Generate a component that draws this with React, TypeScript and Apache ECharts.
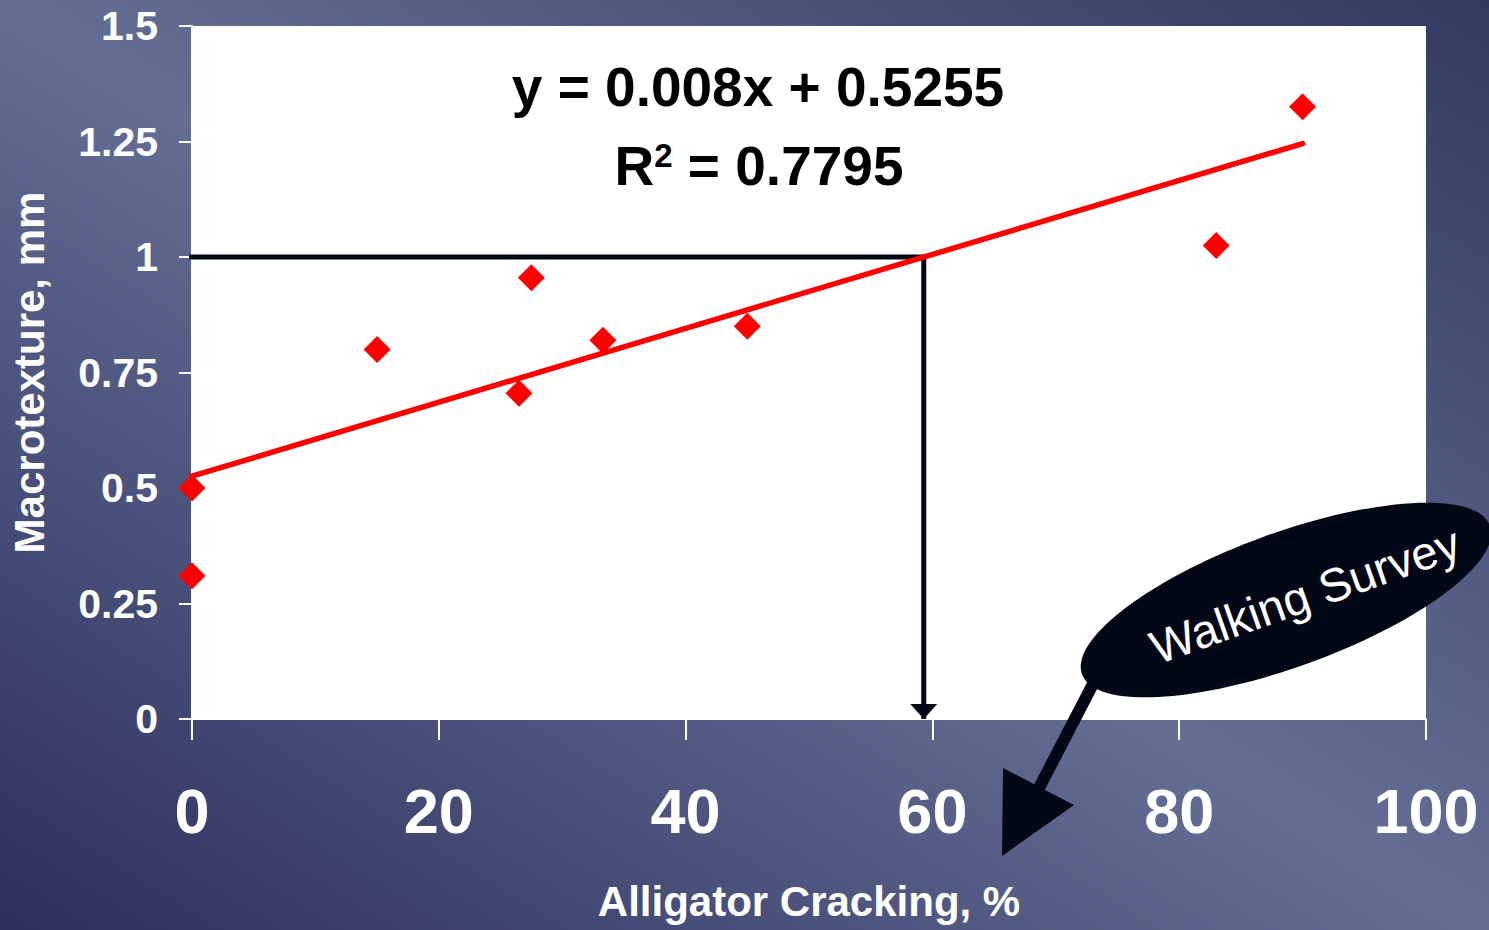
import React, { useEffect, useRef } from "react";
import * as echarts from "echarts";

// Scatter data: Alligator cracking (%) vs Macrotexture (mm)
const crackingPct = [0, 0, 15, 26.5, 27.5, 33.3, 45, 83, 90];
const macrotexture = [0.5, 0.31, 0.8, 0.705, 0.955, 0.82, 0.85, 1.025, 1.325];

// Linear trend line (y = 0.008x + 0.5255) end points
const trendX = [0, 90];
const trendY = [0.5255, 1.2455];
const equationText = "y = 0.008x + 0.5255";
const rSquaredText = "0.7795";

// Reference reading: macrotexture 1 mm -> cracking ~59.3 %
const refX = [-0.5, 59.3, 59.3];
const refY = [1, 1, 0];

// Axes
const xMin = 0;
const xMax = 100;
const xStep = 20;
const yMin = 0;
const yMax = 1.5;
const yStep = 0.25;

const xTitle = "Alligator Cracking, %";
const yTitle = "Macrotexture, mm";
const calloutText = "Walking Survey";

const FONT = "'Liberation Sans', Arial, Helvetica, sans-serif";
const DARK = "#030816";

export default function App() {
  const ref = useRef<HTMLDivElement>(null);

  useEffect(() => {
    if (!ref.current) return;
    const chart = echarts.init(ref.current, undefined, { renderer: "svg" });

    const scatterData = crackingPct.map((x, i) => [x, macrotexture[i]]);
    const trendData = trendX.map((x, i) => [x, trendY[i]]);
    const refData = refX.map((x, i) => [x, refY[i]]);

    chart.setOption({
      animation: false,
      backgroundColor: new echarts.graphic.LinearGradient(
        0,
        930,
        836,
        -408,
        [
          { offset: 0, color: "#2b305c" },
          { offset: 0.5, color: "#656e95" },
          { offset: 1, color: "#323a62" },
        ],
        true
      ),
      grid: {
        left: 191,
        right: 63,
        top: 26,
        bottom: 211,
        show: true,
        backgroundColor: "#ffffff",
        borderWidth: 0,
      },
      xAxis: {
        type: "value",
        min: xMin,
        max: xMax,
        interval: xStep,
        name: xTitle,
        nameLocation: "middle",
        nameGap: 161,
        nameTextStyle: {
          color: "#ffffff",
          fontSize: 42,
          fontWeight: "bold",
          fontFamily: FONT,
        },
        axisLine: { show: true, lineStyle: { color: "#ffffff", width: 2 } },
        axisTick: {
          show: true,
          inside: false,
          length: 21,
          lineStyle: { color: "#ffffff", width: 2 },
        },
        axisLabel: {
          color: "#ffffff",
          fontSize: 63,
          fontWeight: "bold",
          fontFamily: FONT,
          margin: 60,
        },
        splitLine: { show: false },
      },
      yAxis: {
        type: "value",
        min: yMin,
        max: yMax,
        interval: yStep,
        name: yTitle,
        nameLocation: "middle",
        nameRotate: 90,
        nameGap: 142,
        nameTextStyle: {
          color: "#ffffff",
          fontSize: 42,
          fontWeight: "bold",
          fontFamily: FONT,
        },
        axisLine: { show: true, lineStyle: { color: "#ffffff", width: 2 } },
        axisTick: {
          show: true,
          inside: false,
          length: 13,
          lineStyle: { color: "#ffffff", width: 2 },
        },
        axisLabel: {
          color: "#ffffff",
          fontSize: 41,
          fontWeight: "bold",
          fontFamily: FONT,
          margin: 34,
        },
        splitLine: { show: false },
      },
      series: [
        {
          type: "line",
          data: refData,
          clip: false,
          showSymbol: false,
          symbol: "none",
          lineStyle: { color: DARK, width: 5 },
          z: 3,
        },
        {
          type: "line",
          data: trendData,
          showSymbol: false,
          symbol: "none",
          lineStyle: { color: "#ff0000", width: 5.5, cap: "round" },
          z: 4,
        },
        {
          type: "scatter",
          data: scatterData,
          symbol: "diamond",
          symbolSize: 27,
          clip: false,
          itemStyle: { color: "#ff0000", opacity: 1 },
          z: 5,
        },
      ],
    });

    const tip = chart.convertToPixel({ gridIndex: 0 }, [refX[2], refY[2]]) as number[];

    chart.setOption({
      graphic: [
        {
          type: "polygon",
          z: 10,
          shape: {
            points: [
              [tip[0] - 13.5, tip[1] - 15],
              [tip[0] + 13.5, tip[1] - 15],
              [tip[0], tip[1]],
            ],
          },
          style: { fill: DARK },
        },
        {
          type: "text",
          x: 758,
          y: 87,
          z: 10,
          style: {
            text: equationText,
            fill: "#000000",
            fontSize: 55,
            fontWeight: "bold",
            fontFamily: FONT,
            align: "center",
            verticalAlign: "middle",
          },
        },
        {
          type: "text",
          x: 759,
          y: 166,
          z: 10,
          style: {
            text: "{r|R}{s|2}{r| = " + rSquaredText + "}",
            fill: "#000000",
            fontSize: 55,
            fontWeight: "bold",
            fontFamily: FONT,
            align: "center",
            verticalAlign: "middle",
            rich: {
              r: {
                fontSize: 55,
                fontWeight: "bold",
                fontFamily: FONT,
                fill: "#000000",
              },
              s: {
                fontSize: 33,
                fontWeight: "bold",
                fontFamily: FONT,
                fill: "#000000",
                verticalAlign: "top",
              },
            },
          },
        },
        {
          type: "line",
          z: 20,
          shape: { x1: 1094, y1: 682, x2: 1038, y2: 790 },
          style: { stroke: DARK, lineWidth: 12 },
        },
        {
          type: "polygon",
          z: 20,
          shape: {
            points: [
              [1002, 856],
              [1003, 768],
              [1074, 805],
            ],
          },
          style: { fill: DARK },
        },
        {
          type: "ellipse",
          z: 21,
          x: 1286,
          y: 600,
          rotation: (20 * Math.PI) / 180,
          shape: { cx: 0, cy: 0, rx: 217, ry: 67 },
          style: { fill: DARK },
        },
        {
          type: "text",
          z: 22,
          x: 1305,
          y: 595,
          rotation: (19.5 * Math.PI) / 180,
          style: {
            text: calloutText,
            fill: "#ffffff",
            fontSize: 47,
            fontFamily: FONT,
            align: "center",
            verticalAlign: "middle",
          },
        },
      ],
    });

    return () => chart.dispose();
  }, []);

  return (
    <div
      ref={ref}
      style={{ position: "fixed", left: 0, top: 0, width: 1489, height: 930 }}
    />
  );
}
